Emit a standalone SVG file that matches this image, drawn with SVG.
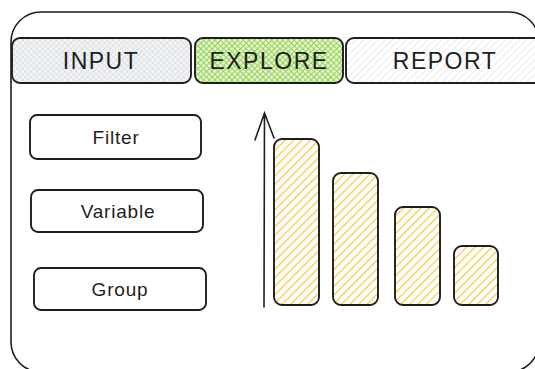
<svg xmlns="http://www.w3.org/2000/svg" width="535" height="369" viewBox="0 0 535 369">
<defs>
<pattern id="xgray" width="4" height="4" patternUnits="userSpaceOnUse" patternTransform="rotate(45)">
<rect width="4" height="4" fill="#f4f5f6"/>
<line x1="0" y1="0" x2="0" y2="4" stroke="#d6dadf" stroke-width="1.4"/>
<line x1="0" y1="0" x2="4" y2="0" stroke="#d6dadf" stroke-width="1.4"/>
</pattern>
<pattern id="xgreen" width="4" height="4" patternUnits="userSpaceOnUse" patternTransform="rotate(45)">
<rect width="4" height="4" fill="#e6f5d0"/>
<line x1="0" y1="0" x2="0" y2="4" stroke="#8fd14f" stroke-width="1.8"/>
<line x1="0" y1="0" x2="4" y2="0" stroke="#8fd14f" stroke-width="1.8"/>
</pattern>
<pattern id="hgray" width="5" height="5" patternUnits="userSpaceOnUse" patternTransform="rotate(45)">
<rect width="5" height="5" fill="#ffffff"/>
<line x1="0" y1="0" x2="0" y2="5" stroke="#d9dcdf" stroke-width="1.2"/>
</pattern>
<pattern id="hyellow" width="6" height="6" patternUnits="userSpaceOnUse" patternTransform="rotate(45)">
<rect width="6" height="6" fill="#ffffff"/>
<line x1="0" y1="0" x2="0" y2="6" stroke="#fcc94f" stroke-width="2.6"/>
</pattern>
<style>
.frame{fill:none;stroke:#1e1e1e;stroke-width:1.6}
.box{stroke:#1e1e1e;stroke-width:1.9}
.tab{font-family:"Liberation Sans",sans-serif;font-size:23px;letter-spacing:1.5px;fill:#1e1e1e;text-anchor:middle}
.lbl{font-family:"Liberation Sans",sans-serif;font-size:19px;letter-spacing:0.8px;fill:#1e1e1e;text-anchor:middle}
</style>
</defs>
<g id="frame">
<rect class="frame" x="11" y="12" width="528" height="360" rx="30"/>
</g>
<g id="tab-input">
<rect class="box" x="12" y="38" width="179" height="45" rx="8" fill="url(#xgray)"/>
<text class="tab" x="101" y="69">INPUT</text>
</g>
<g id="tab-explore">
<rect class="box" x="195" y="38" width="148" height="45" rx="8" fill="url(#xgreen)"/>
<text class="tab" x="269" y="69">EXPLORE</text>
</g>
<g id="tab-report">
<rect class="box" x="346" y="38" width="200" height="45" rx="8" fill="url(#hgray)"/>
<text class="tab" x="445" y="69">REPORT</text>
</g>
<g id="btn-filter">
<rect class="box" x="30" y="115" width="171" height="44" rx="7" fill="#ffffff"/>
<text class="lbl" x="116" y="144">Filter</text>
</g>
<g id="btn-variable">
<rect class="box" x="31" y="190" width="172" height="42" rx="7" fill="#ffffff"/>
<text class="lbl" x="118" y="218">Variable</text>
</g>
<g id="btn-group">
<rect class="box" x="34" y="268" width="172" height="42" rx="7" fill="#ffffff"/>
<text class="lbl" x="120" y="296">Group</text>
</g>
<g id="bar1"><rect class="box" x="274" y="139" width="45" height="166" rx="8" fill="url(#hyellow)"/></g>
<g id="bar2"><rect class="box" x="333" y="173" width="45" height="132" rx="8" fill="url(#hyellow)"/></g>
<g id="bar3"><rect class="box" x="395" y="207" width="45" height="98" rx="8" fill="url(#hyellow)"/></g>
<g id="bar4"><rect class="box" x="454" y="246" width="44" height="59" rx="8" fill="url(#hyellow)"/></g>
<g id="connectors">
<path d="M264 307 L264.5 113 M255 140 L264.5 113 L274 138" fill="none" stroke="#1e1e1e" stroke-width="1.6" stroke-linecap="round"/>
</g>
</svg>
